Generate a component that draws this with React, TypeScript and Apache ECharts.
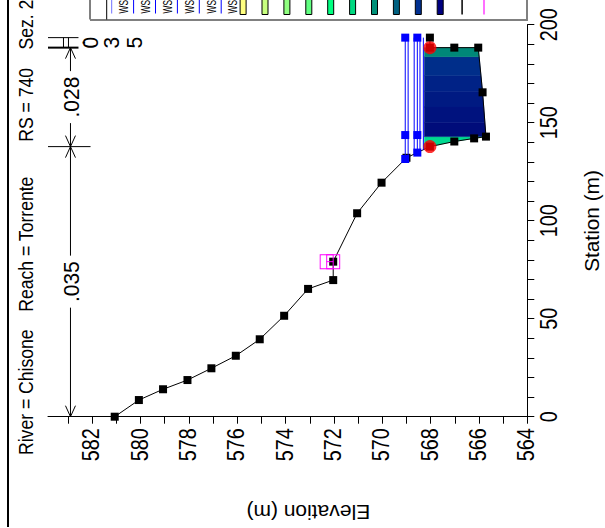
import React, { useEffect, useRef } from "react";
import * as echarts from "echarts";

const FONT = "'Liberation Sans', Arial, Helvetica, sans-serif";

// ---- Data ----
const groundSta = [0, 8.5, 14.0, 18.7, 24.7, 31.1, 39.5, 51.5, 65.2, 69.7, 79.1, 103.8, 119.4, 132.1, 137.8, 140.4, 142.0, 142.9, 165.5, 188.3, 188.3, 188.3, 193.4];
const groundElev = [581.07, 580.07, 579.07, 578.06, 577.07, 576.06, 575.07, 574.06, 573.07, 572.03, 572.03, 571.04, 570.03, 569.0, 568.03, 567.02, 566.2, 565.71, 565.85, 566.03, 567.02, 568.03, 568.03];

const bankSta = [137.8, 188.3];
const bankElev = [568.03, 568.03];

const wsNames = ["WS", "WS", "WS", "WS", "WS", "WS"];
const wsElev = [569.05, 568.93, 568.68, 568.55, 568.44, 568.3];
const wsSymbols = ["rect", "none", "none", "rect", "none", "none"];
const wsMarkSta = 143.7;

const velWsElev = 568.26;
const velBandSta = [130, 142.9, 150, 158, 166, 174, 183.7, 188.3];
const velBandColors = ["#00D890", "#000C7A", "#00127E", "#001A82", "#002286", "#002E8A", "#008878"];

const velLegendColors = ["#FFFF80", "#C8FF80", "#90FF80", "#60FF80", "#00FF80", "#00D880", "#009078", "#006080", "#003090", "#000080"];

const nBreakSta = [0, 137.8, 188.3, 193.4];
const nValues = [".035", ".028", ".035"];

const ineffElev = [572.3, 572.03];
const ineffSta = [79.1, 79.1];

const elevTicks = [564, 565, 566, 567, 568, 569, 570, 571, 572, 573, 574, 575, 576, 577, 578, 579, 580, 581, 582, 583];
const elevLabels = [564, 566, 568, 570, 572, 574, 576, 578, 580, 582];
const staTicks = [0, 10, 20, 30, 40, 50, 60, 70, 80, 90, 100, 110, 120, 130, 140, 150, 160, 170, 180, 190, 200];
const staLabels = [0, 50, 100, 150, 200];

const ELEV_MIN = 564;
const ELEV_MAX = 583.83;
const N_LINE_ELEV = 582.9;
const N_TICK_ELEV = 582.07;

// ---- helpers ----
function groundPts(): number[][] {
  return groundSta.map((s, i) => [groundElev[i], s]);
}

function leftIntersection(ws: number): number {
  const g = groundPts();
  for (let i = 0; i < g.length - 1; i++) {
    const a = g[i], b = g[i + 1];
    if (a[0] >= ws && b[0] < ws) {
      const t = (a[0] - ws) / (a[0] - b[0]);
      return a[1] + t * (b[1] - a[1]);
    }
  }
  return g[0][1];
}

function waterPolygon(ws: number): number[][] {
  const g = groundPts();
  const poly: number[][] = [];
  let started = false;
  for (let i = 0; i < g.length - 1; i++) {
    const a = g[i], b = g[i + 1];
    if (!started && a[0] >= ws && b[0] < ws) {
      const t = (a[0] - ws) / (a[0] - b[0]);
      poly.push([ws, a[1] + t * (b[1] - a[1])]);
      started = true;
    }
    if (started && b[0] < ws) poly.push(b);
  }
  const last = poly[poly.length - 1];
  poly.push([ws, last[1]]);
  return poly;
}

function clipPoly(poly: number[][], s: number, keepAbove: boolean): number[][] {
  const out: number[][] = [];
  for (let i = 0; i < poly.length; i++) {
    const a = poly[i], b = poly[(i + 1) % poly.length];
    const ina = keepAbove ? a[1] >= s : a[1] <= s;
    const inb = keepAbove ? b[1] >= s : b[1] <= s;
    if (ina) out.push(a);
    if (ina !== inb) {
      const t = (s - a[1]) / (b[1] - a[1]);
      out.push([a[0] + t * (b[0] - a[0]), s]);
    }
  }
  return out;
}

function buildOption() {
  const water = waterPolygon(velWsElev);
  const lastSta = groundSta[groundSta.length - 1];

  const series: any[] = [];

  // velocity distribution fill
  series.push({
    type: "custom",
    coordinateSystem: "cartesian2d",
    z: 1,
    silent: true,
    data: velBandColors.map((_, i) => [velWsElev, (velBandSta[i] + velBandSta[i + 1]) / 2]),
    renderItem: (params: any, api: any) => {
      const i = params.dataIndex;
      let p = clipPoly(water, velBandSta[i], true);
      p = clipPoly(p, velBandSta[i + 1], false);
      if (p.length < 3) return { type: "group", children: [] };
      return {
        type: "polygon",
        shape: { points: p.map((q) => api.coord(q)) },
        style: { fill: velBandColors[i], stroke: velBandColors[i], lineWidth: 0.5 },
      };
    },
  });

  // ground
  series.push({
    type: "line",
    name: "Ground",
    z: 3,
    data: groundPts(),
    symbol: "rect",
    symbolSize: 8,
    showAllSymbol: true,
    itemStyle: { color: "#000" },
    lineStyle: { color: "#000", width: 1 },
  });

  // water surfaces
  wsElev.forEach((e, k) => {
    const s0 = leftIntersection(e);
    series.push({
      type: "line",
      name: "WS " + k,
      z: 4,
      data: [[e, s0], [e, wsMarkSta], [e, lastSta]],
      symbol: wsSymbols[k],
      symbolSize: 8,
      showAllSymbol: true,
      itemStyle: { color: "#0000FF" },
      lineStyle: { color: "#0000FF", width: 1 },
    });
  });

  // bank stations
  series.push({
    type: "scatter",
    name: "Bank Sta",
    z: 6,
    data: bankSta.map((s, i) => [bankElev[i], s]),
    symbol: "circle",
    symbolSize: 13,
    itemStyle: { color: "#FF0000" },
  });

  // ineffective markers
  series.push({
    type: "line",
    name: "Ineff",
    z: 5,
    data: ineffSta.map((s, i) => [ineffElev[i], s]),
    symbol: "rect",
    symbolSize: [13, 14],
    showAllSymbol: true,
    itemStyle: { color: "rgba(0,0,0,0)", borderColor: "#FF00FF", borderWidth: 1 },
    lineStyle: { color: "#FF00FF", width: 1 },
  });

  // Manning's n annotation
  series.push({
    type: "custom",
    coordinateSystem: "cartesian2d",
    z: 7,
    silent: true,
    clip: false,
    data: [[N_LINE_ELEV, 100]],
    renderItem: (_params: any, api: any) => {
      const ch: any[] = [];
      const lx = api.coord([N_LINE_ELEV, 0])[0];
      const ex = api.coord([ELEV_MAX, 0])[0];
      const tx = api.coord([N_TICK_ELEV, 0])[0];
      const ln = (x1: number, y1: number, x2: number, y2: number, w = 1) =>
        ch.push({ type: "line", shape: { x1, y1, x2, y2 }, style: { stroke: "#000", lineWidth: w } });
      nBreakSta.forEach((s, i) => {
        if (i === 0) return;
        const y = api.coord([N_LINE_ELEV, s])[1];
        ln(ex, y, i === 1 ? tx : lx + 8, y, i === 2 ? 2 : 1);
      });
      for (let i = 0; i < nValues.length; i++) {
        const yA = api.coord([N_LINE_ELEV, nBreakSta[i]])[1];
        const yB = api.coord([N_LINE_ELEV, nBreakSta[i + 1]])[1];
        const len = yA - yB;
        if (len > 60) {
          const mid = (yA + yB) / 2;
          const half = 26;
          ln(lx, yA, lx, mid + half);
          ln(lx, mid - half, lx, yB);
          ch.push({ type: "polyline", shape: { points: [[lx - 5, yA - 11], [lx, yA], [lx + 5, yA - 11]] }, style: { stroke: "#000", fill: null, lineWidth: 1 } });
          ch.push({ type: "polyline", shape: { points: [[lx - 5, yB + 11], [lx, yB], [lx + 5, yB + 11]] }, style: { stroke: "#000", fill: null, lineWidth: 1 } });
          ch.push({
            type: "text", x: lx + 1, y: mid, rotation: Math.PI / 2, scaleY: 1.08,
            style: { text: nValues[i], fill: "#000", fontSize: 21, fontFamily: FONT, align: "center", verticalAlign: "middle" },
          });
        } else {
          ln(lx - 7, yA, lx - 7, yB);
          ln(lx - 2, yA, lx - 2, yB);
          const ym = (yA + yB) / 2;
          const chars = nValues[i].split("");
          const offs = [7, 20, 41, 64];
          chars.forEach((c, k) => {
            ch.push({
              type: "text", x: lx + offs[k], y: ym, rotation: Math.PI / 2, scaleY: 1.08,
              style: { text: c, fill: "#000", fontSize: 21, fontFamily: FONT, align: "center", verticalAlign: "middle" },
            });
          });
        }
      }
      return { type: "group", children: ch };
    },
  });

  // ---- graphic: titles and legend ----
  const graphic: any[] = [];
  graphic.push({ type: "line", shape: { x1: 8, y1: -2, x2: 8, y2: 527 }, style: { stroke: "#000", lineWidth: 2 } });
  const titleParts = [
    { t: "River = Chisone", y: 455 },
    { t: "Reach = Torrente", y: 311.7 },
    { t: "RS = 740", y: 141.7 },
    { t: "Sez. 2", y: 49.5 },
  ];
  titleParts.forEach((p) =>
    graphic.push({
      type: "text", x: 26, y: p.y, rotation: Math.PI / 2, scaleY: 1.18,
      style: { text: p.t, fill: "#000", fontSize: 17.6, fontFamily: FONT, align: "left", verticalAlign: "middle" },
    })
  );
  graphic.push({
    type: "text", x: 308.3, y: 512.5, rotation: Math.PI,
    style: { text: "Elevation (m)", fill: "#000", fontSize: 21, fontFamily: FONT, align: "center", verticalAlign: "middle" },
  });
  graphic.push({
    type: "text", x: 591.5, y: 221, rotation: Math.PI / 2,
    style: { text: "Station (m)", fill: "#000", fontSize: 20.8, fontFamily: FONT, align: "center", verticalAlign: "middle" },
  });

  // legend box
  const LX0 = 90, LX1 = 527, LY1 = 19.5, STEP = 21.9, FIRST = 111.7;
  graphic.push({ type: "rect", shape: { x: LX0, y: -40, width: LX1 - LX0, height: LY1 + 40 }, style: { fill: "#fff", stroke: "#000", lineWidth: 1 }, z: 10 });
  graphic.push({ type: "line", shape: { x1: LX0, y1: LY1 + 0.5, x2: LX1 + 1, y2: LY1 + 0.5 }, style: { stroke: "#808080", lineWidth: 2 }, z: 11 });
  graphic.push({ type: "line", shape: { x1: LX1, y1: -40, x2: LX1, y2: LY1 + 1 }, style: { stroke: "#808080", lineWidth: 2 }, z: 11 });
  graphic.push({ type: "line", shape: { x1: 106.7, y1: -40, x2: 106.7, y2: LY1 }, style: { stroke: "#000", lineWidth: 1 }, z: 11 });
  wsNames.forEach((n, k) => {
    const x = FIRST + k * STEP;
    graphic.push({ type: "line", shape: { x1: x, y1: -40, x2: x, y2: 13.5 }, style: { stroke: k === 0 ? "#7070FF" : "#0000FF", lineWidth: 1 }, z: 11 });
    graphic.push({
      type: "text", x: x + 11.5, y: 13.5, rotation: Math.PI / 2, scaleY: 1.5, z: 11,
      style: { text: n, fill: "#000", fontSize: 8.4, fontFamily: FONT, align: "left", verticalAlign: "middle" },
    });
  });
  velLegendColors.forEach((c, k) => {
    const x = FIRST + (wsNames.length + k) * STEP;
    graphic.push({ type: "rect", shape: { x: x - 3, y: -20, width: 6, height: 34.5 }, style: { fill: c, stroke: "#000", lineWidth: 1 }, z: 11 });
  });
  const gx = FIRST + (wsNames.length + velLegendColors.length) * STEP;
  graphic.push({ type: "line", shape: { x1: gx, y1: -20, x2: gx, y2: 14.5 }, style: { stroke: "#000", lineWidth: 1.5 }, z: 11 });
  graphic.push({ type: "line", shape: { x1: gx + STEP, y1: -20, x2: gx + STEP, y2: 14.5 }, style: { stroke: "#FF40FF", lineWidth: 1.5 }, z: 11 });

  return {
    animation: false,
    backgroundColor: "#fff",
    grid: { left: 48, right: 77.7, top: 24.7, bottom: 111.3, containLabel: false },
    xAxis: {
      type: "value",
      min: ELEV_MIN,
      max: ELEV_MAX,
      inverse: true,
      position: "bottom",
      axisLine: { show: true, lineStyle: { color: "#000", width: 1 } },
      axisTick: { show: true, customValues: elevTicks, length: 7, lineStyle: { color: "#000" } },
      axisLabel: { show: false },
      splitLine: { show: false },
    },
    yAxis: {
      type: "value",
      min: 0,
      max: 200,
      position: "right",
      axisLine: { show: true, lineStyle: { color: "#000", width: 1 } },
      axisTick: { show: true, customValues: staTicks, length: 7, lineStyle: { color: "#000" } },
      axisLabel: { show: false },
      splitLine: { show: false },
    },
    series,
    graphic,
  };
}

export default function App() {
  const ref = useRef<HTMLDivElement>(null);
  useEffect(() => {
    if (!ref.current) return;
    const chart = echarts.init(ref.current, undefined, { renderer: "svg" });
    const option: any = buildOption();
    chart.setOption(option);
    // tick labels, placed through the axes' own scales
    const labels: any[] = [];
    const axisY = chart.convertToPixel({ yAxisIndex: 0 }, 0) as number;
    const axisX = chart.convertToPixel({ xAxisIndex: 0 }, ELEV_MIN) as number;
    elevLabels.forEach((v) => {
      const x = chart.convertToPixel({ xAxisIndex: 0 }, v) as number;
      labels.push({
        type: "text", x: x - 0.5, y: axisY + 11.5, rotation: Math.PI / 2, scaleY: 1.17,
        style: { text: String(v), fill: "#000", fontSize: 19.8, fontFamily: FONT, align: "right", verticalAlign: "middle" },
      });
    });
    staLabels.forEach((v) => {
      const y = chart.convertToPixel({ yAxisIndex: 0 }, v) as number;
      labels.push({
        type: "text", x: axisX + 22, y: y, rotation: Math.PI / 2, scaleY: 1.17,
        style: { text: String(v), fill: "#000", fontSize: 19.8, fontFamily: FONT, align: "center", verticalAlign: "middle" },
      });
    });
    chart.setOption({ graphic: [...option.graphic, ...labels] });
    return () => chart.dispose();
  }, []);
  return (
    <div
      ref={ref}
      style={{ position: "fixed", left: 0, top: 0, width: 605, height: 528, background: "#fff" }}
    />
  );
}
